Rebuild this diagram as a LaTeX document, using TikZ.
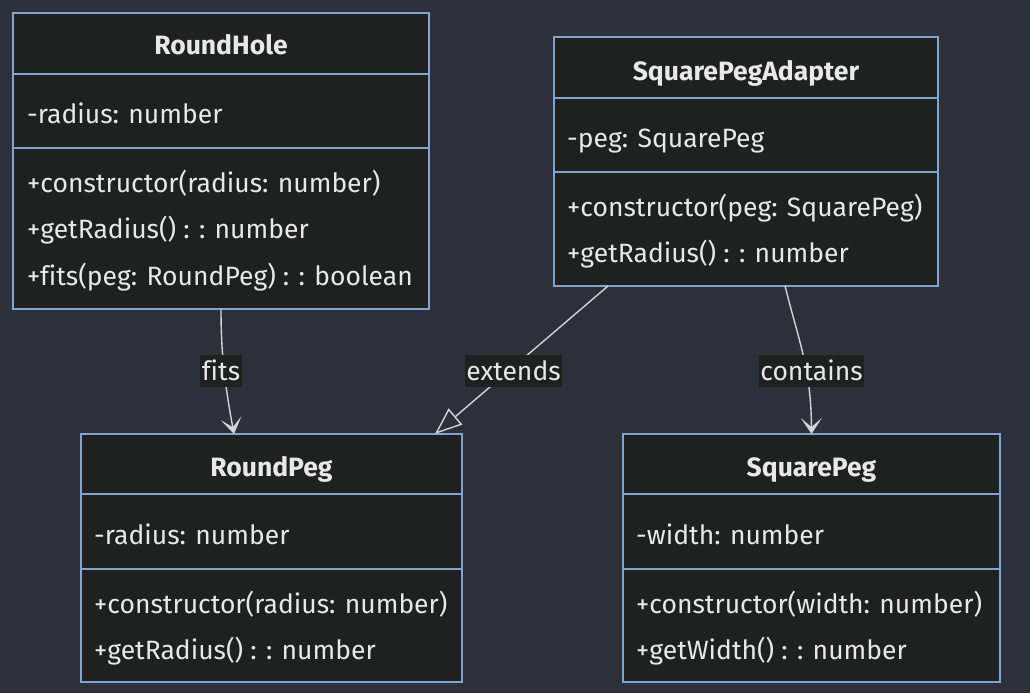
\documentclass[tikz,border=0pt]{standalone}
\usepackage{fontspec}
\setmainfont[Ligatures={NoCommon}]{Fira Sans}
\usetikzlibrary{arrows.meta}
\definecolor{bgc}{RGB}{43,48,59}
\definecolor{boxc}{RGB}{31,32,32}
\definecolor{bordc}{RGB}{125,165,205}
\definecolor{txtc}{RGB}{232,232,232}
\definecolor{linec}{RGB}{211,211,211}
\begin{document}
\begin{tikzpicture}[x=1pt,y=-1pt,
  classbox/.style={draw=bordc, fill=boxc, line width=1.2pt, inner sep=0pt, outer sep=0pt, anchor=north west},
  ctitle/.style={text=txtc, font=\fontsize{26.5}{30}\selectfont\bfseries, anchor=base, inner sep=0pt},
  member/.style={text=txtc, font=\fontsize{26.5}{30}\selectfont, anchor=base west, inner sep=0pt},
  divider/.style={draw=bordc, line width=1.2pt},
  conn/.style={draw=linec, line width=1.4pt},
  lbl/.style={fill=boxc, text=txtc, font=\fontsize{26.5}{30}\selectfont, inner xsep=1.5pt, inner ysep=3.5pt, text height=22pt, text depth=3pt},
  vtip/.style={-{Stealth[length=16pt,width=21pt,inset=9pt]}},
  ttip/.style={-{Triangle[open,length=27pt,width=21pt]}}
]
\useasboundingbox[fill=bgc] (0,0) rectangle (1030,693);

% RoundHole
\node[classbox, minimum width=416pt, minimum height=296pt] (rh) at (13,13) {};
\draw[divider] (rh.west |- 0,74) -- (rh.east |- 0,74);
\draw[divider] (rh.west |- 0,148) -- (rh.east |- 0,148);
\node[ctitle] (rht) at (221,55) {RoundHole};
\node[member] (rha) at (27,123) {-radius: number};
\node[member] (rhm1) at (27,192) {+constructor(radius: number)};
\node[member] (rhm2) at (27,238) {+getRadius() : : number};
\node[member] (rhm3) at (27,285) {+fits(peg: RoundPeg) : : boolean};

% SquarePegAdapter
\node[classbox, minimum width=384pt, minimum height=249pt] (spa) at (554,37) {};
\draw[divider] (spa.west |- 0,98) -- (spa.east |- 0,98);
\draw[divider] (spa.west |- 0,172) -- (spa.east |- 0,172);
\node[ctitle] (spat) at (746,80) {SquarePegAdapter};
\node[member] (spaa) at (567,147) {-peg: SquarePeg};
\node[member] (spam1) at (567,216) {+constructor(peg: SquarePeg)};
\node[member] (spam2) at (567,262) {+getRadius() : : number};

% RoundPeg
\node[classbox, minimum width=381pt, minimum height=248pt] (rp) at (81,434) {};
\draw[divider] (rp.west |- 0,494) -- (rp.east |- 0,494);
\draw[divider] (rp.west |- 0,569) -- (rp.east |- 0,569);
\node[ctitle] (rpt) at (271.5,476) {RoundPeg};
\node[member] (rpa) at (94,544) {-radius: number};
\node[member] (rpm1) at (94,613) {+constructor(radius: number)};
\node[member] (rpm2) at (94,659) {+getRadius() : : number};

% SquarePeg
\node[classbox, minimum width=377pt, minimum height=248pt] (sp) at (623,434) {};
\draw[divider] (sp.west |- 0,494) -- (sp.east |- 0,494);
\draw[divider] (sp.west |- 0,569) -- (sp.east |- 0,569);
\node[ctitle] (spt) at (811.5,476) {SquarePeg};
\node[member] (spa1) at (636,544) {-width: number};
\node[member] (spm1) at (636,613) {+constructor(width: number)};
\node[member] (spm2) at (636,659) {+getWidth() : : number};

% connectors
\draw[conn, vtip] (rh.south) .. controls (221,350) and (224,380) .. ([xshift=-37.5pt]rp.north);
\draw[conn, ttip] ([xshift=-138pt]spa.south) -- ([xshift=163.5pt]rp.north);
\draw[conn, vtip] ([xshift=39pt]spa.south) .. controls (800,345) and (811,370) .. (sp.north);

% labels
\node[lbl] (lfits) at (221,371) {fits};
\node[lbl] (lext) at (513.5,371) {extends};
\node[lbl] (lcont) at (811.5,371) {contains};
\end{tikzpicture}
\end{document}
